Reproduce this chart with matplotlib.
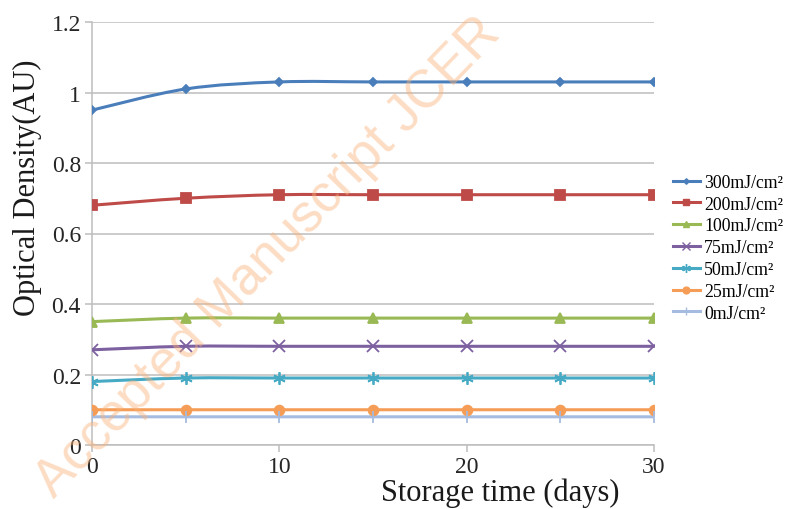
import matplotlib.pyplot as plt
import numpy as np
from matplotlib.path import Path
from matplotlib.patches import PathPatch
from matplotlib.lines import Line2D

days = [0, 5, 10, 15, 20, 25, 30]
labels = ['300mJ/cm²', '200mJ/cm²', '100mJ/cm²', '75mJ/cm²',
          '50mJ/cm²', '25mJ/cm²', '0mJ/cm²']
od_300 = [0.95, 1.01, 1.03, 1.03, 1.03, 1.03, 1.03]
od_200 = [0.68, 0.70, 0.71, 0.71, 0.71, 0.71, 0.71]
od_100 = [0.35, 0.36, 0.36, 0.36, 0.36, 0.36, 0.36]
od_75 = [0.27, 0.28, 0.28, 0.28, 0.28, 0.28, 0.28]
od_50 = [0.18, 0.19, 0.19, 0.19, 0.19, 0.19, 0.19]
od_25 = [0.10, 0.10, 0.10, 0.10, 0.10, 0.10, 0.10]
od_0 = [0.08, 0.08, 0.08, 0.08, 0.08, 0.08, 0.08]
series = [od_300, od_200, od_100, od_75, od_50, od_25, od_0]

colors = ['#4A7EBB', '#BE4B48', '#98B954', '#7D60A0', '#46AAC5', '#F59D56', '#A5BCE0']
markers = ['D', 's', '^', 'x', (6, 2, 0), 'o', '|']
msizes = [4, 7, 7, 8, 9, 7, 8]

plt.rcParams['font.family'] = ['Liberation Serif', 'DejaVu Serif']


def smooth_path(x, y):
    # Excel-style smoothed line: cubic bezier with tension 1/6
    p = np.column_stack([x, y]).astype(float)
    n = len(p)
    verts = [p[0]]
    codes = [Path.MOVETO]
    for i in range(n - 1):
        p_prev = p[i - 1] if i > 0 else p[i]
        p_next2 = p[i + 2] if i + 2 < n else p[i + 1]
        c1 = p[i] + (p[i + 1] - p_prev) / 6
        c2 = p[i + 1] - (p_next2 - p[i]) / 6
        verts += [c1, c2, p[i + 1]]
        codes += [Path.CURVE4] * 3
    return Path(verts, codes)


fig = plt.figure(figsize=(7.95, 5.10), dpi=100)
ax = fig.add_axes([92 / 795, 64 / 510, 562 / 795, 423 / 510])

handles = []
for vals, lab, c, m, ms in zip(series, labels, colors, markers, msizes):
    ax.add_patch(PathPatch(smooth_path(days, vals), fill=False, edgecolor=c,
                           lw=2.2, zorder=3))
    ax.plot(days, vals, linestyle='none', marker=m, color=c, ms=ms,
            mew=1.3, zorder=4)
    handles.append(Line2D([], [], color=c, lw=2.2, marker=m, ms=ms * 0.7,
                          mew=1.0))

ax.set_xlim(0, 30)
ax.set_ylim(0, 1.2)
ax.set_xticks([0, 10, 20, 30])
ax.set_yticks(np.arange(0, 1.21, 0.2))
ax.set_yticklabels(['0', '0.2', '0.4', '0.6', '0.8', '1', '1.2'])
ax.grid(axis='y', color='#BDBDBD', lw=1.1, zorder=0)
ax.set_axisbelow(True)
for s in ['top', 'right']:
    ax.spines[s].set_visible(False)
for s in ['left', 'bottom']:
    ax.spines[s].set_color('#BDBDBD')
    ax.spines[s].set_linewidth(1.1)
ax.tick_params(axis='both', labelsize=17, color='#BDBDBD', length=5,
               width=1.1, labelcolor='#262626', pad=3)

fig.text(500 / 795, 1 - 493 / 510, 'Storage time (days)', fontsize=22,
         ha='center', va='center', color='#1a1a1a')
fig.text(27 / 795, 1 - 188 / 510, 'Optical Density(AU)', fontsize=22,
         ha='center', va='center', rotation=90, color='#1a1a1a')

fig.legend(handles=handles, labels=labels, loc='upper left',
           bbox_to_anchor=(664 / 795, 1 - 166 / 510), frameon=False,
           fontsize=12.8, handlelength=1.5, handletextpad=0.25,
           labelspacing=0.27, borderpad=0)

fig.text(268 / 795, 1 - 258 / 510, 'Accepted Manuscript JCER', fontsize=38,
         family=['Liberation Sans', 'DejaVu Sans'], color='#F9B27A',
         alpha=0.45, rotation=46, ha='center', va='center', zorder=10)

plt.savefig('out.png', dpi=100)
